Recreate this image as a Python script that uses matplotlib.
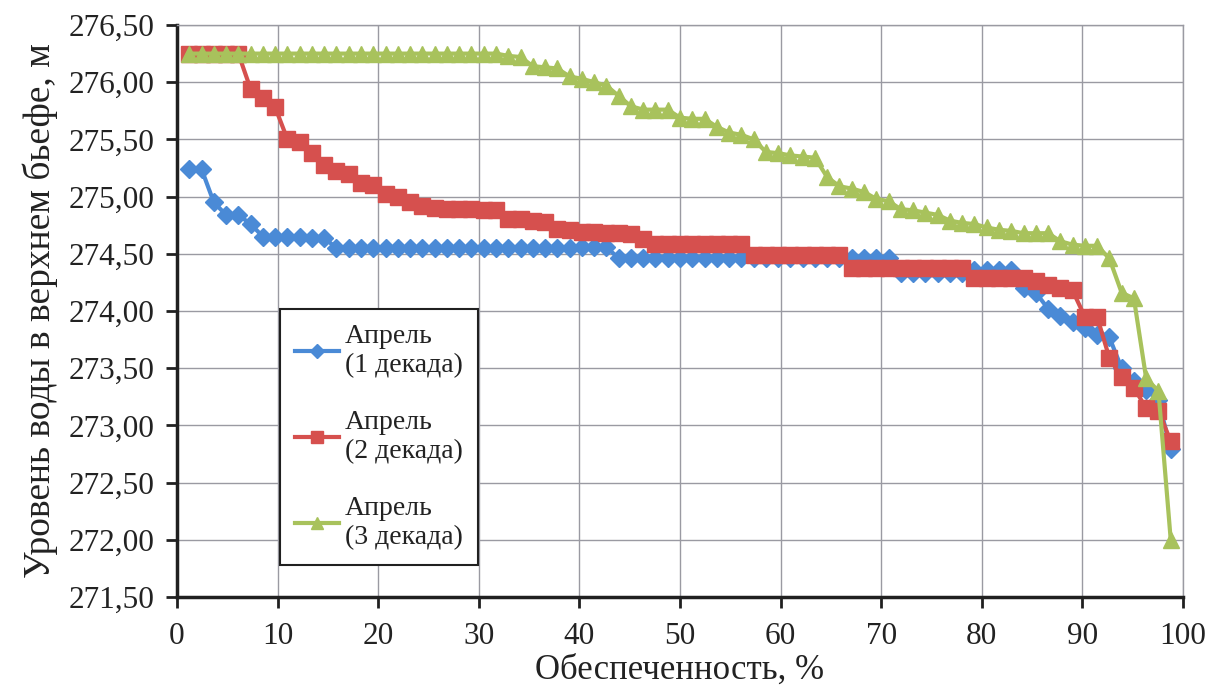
import numpy as np
import matplotlib
matplotlib.use('Agg')
import matplotlib.pyplot as plt
from matplotlib.ticker import FuncFormatter, MultipleLocator

plt.rcParams['font.family'] = ['Liberation Serif', 'DejaVu Serif']

# обеспеченность, %
obesp = [1.22, 2.44, 3.66, 4.88, 6.10, 7.32, 8.54, 9.76, 10.98, 12.20,
         13.41, 14.63, 15.85, 17.07, 18.29, 19.51, 20.73, 21.95, 23.17, 24.39,
         25.61, 26.83, 28.05, 29.27, 30.49, 31.71, 32.93, 34.15, 35.37, 36.59,
         37.80, 39.02, 40.24, 41.46, 42.68, 43.90, 45.12, 46.34, 47.56, 48.78,
         50.00, 51.22, 52.44, 53.66, 54.88, 56.10, 57.32, 58.54, 59.76, 60.98,
         62.20, 63.41, 64.63, 65.85, 67.07, 68.29, 69.51, 70.73, 71.95, 73.17,
         74.39, 75.61, 76.83, 78.05, 79.27, 80.49, 81.71, 82.93, 84.15, 85.37,
         86.59, 87.80, 89.02, 90.24, 91.46, 92.68, 93.90, 95.12, 96.34, 97.56,
         98.78]

# Апрель (1 декада)
dek1 = [275.24, 275.24, 274.95, 274.84, 274.84, 274.76, 274.65, 274.65, 274.65, 274.65,
        274.64, 274.64, 274.55, 274.55, 274.55, 274.55, 274.55, 274.55, 274.55, 274.55,
        274.55, 274.55, 274.55, 274.55, 274.55, 274.55, 274.55, 274.55, 274.55, 274.55,
        274.55, 274.55, 274.56, 274.56, 274.56, 274.46, 274.46, 274.46, 274.46, 274.46,
        274.46, 274.46, 274.46, 274.46, 274.46, 274.46, 274.46, 274.46, 274.46, 274.46,
        274.46, 274.46, 274.46, 274.46, 274.46, 274.46, 274.46, 274.46, 274.33, 274.33,
        274.33, 274.33, 274.33, 274.33, 274.36, 274.36, 274.36, 274.36, 274.20, 274.16,
        274.02, 273.96, 273.90, 273.85, 273.79, 273.77, 273.50, 273.39, 273.31, 273.22,
        272.79]

# Апрель (2 декада)
dek2 = [276.25, 276.25, 276.25, 276.25, 276.25, 275.94, 275.86, 275.78, 275.50, 275.48,
        275.38, 275.28, 275.22, 275.20, 275.12, 275.10, 275.02, 275.00, 274.95, 274.92,
        274.90, 274.89, 274.89, 274.89, 274.88, 274.88, 274.80, 274.80, 274.79, 274.78,
        274.72, 274.71, 274.69, 274.69, 274.68, 274.68, 274.67, 274.63, 274.59, 274.59,
        274.59, 274.59, 274.59, 274.59, 274.59, 274.59, 274.49, 274.49, 274.49, 274.49,
        274.49, 274.49, 274.49, 274.49, 274.38, 274.38, 274.38, 274.38, 274.38, 274.38,
        274.38, 274.38, 274.38, 274.38, 274.29, 274.29, 274.29, 274.29, 274.29, 274.26,
        274.23, 274.20, 274.18, 273.95, 273.95, 273.59, 273.42, 273.33, 273.15, 273.13,
        272.86]

# Апрель (3 декада)
dek3 = [276.25, 276.25, 276.25, 276.25, 276.25, 276.25, 276.25, 276.25, 276.25, 276.25,
        276.25, 276.25, 276.25, 276.25, 276.25, 276.25, 276.25, 276.25, 276.25, 276.25,
        276.25, 276.25, 276.25, 276.25, 276.25, 276.25, 276.23, 276.22, 276.14, 276.13,
        276.12, 276.05, 276.03, 276.00, 275.97, 275.88, 275.79, 275.76, 275.76, 275.76,
        275.69, 275.68, 275.68, 275.61, 275.56, 275.54, 275.50, 275.39, 275.38, 275.36,
        275.35, 275.34, 275.17, 275.09, 275.07, 275.04, 274.98, 274.96, 274.89, 274.88,
        274.86, 274.84, 274.79, 274.77, 274.76, 274.73, 274.71, 274.70, 274.68, 274.68,
        274.68, 274.61, 274.58, 274.57, 274.57, 274.46, 274.16, 274.11, 273.41, 273.30,
        272.00]

labels = ['Апрель\n(1 декада)', 'Апрель\n(2 декада)', 'Апрель\n(3 декада)']

fig = plt.figure(figsize=(12.09, 6.92), dpi=100)
ax = fig.add_axes([177/1209, 1 - 597/692, (1183 - 177)/1209, (597 - 25)/692])

ax.plot(obesp, dek1, color='#4A8AD6', lw=3, marker='D', ms=9.5, mec='#4A8AD6', label=labels[0], zorder=3)
ax.plot(obesp, dek2, color='#D6504E', lw=3, marker='s', ms=11.5, mec='#D6504E', label=labels[1], zorder=3)
ax.plot(obesp, dek3, color='#A8C25C', lw=3, marker='^', ms=11.5, mec='#A8C25C', label=labels[2], zorder=3)

ax.set_xlim(0, 100)
ax.set_ylim(271.5, 276.5)
ax.xaxis.set_major_locator(MultipleLocator(10))
ax.yaxis.set_major_locator(MultipleLocator(0.5))
ax.yaxis.set_major_formatter(FuncFormatter(lambda v, p: f'{v:.2f}'.replace('.', ',')))

ax.grid(True, color='#9a9aa2', lw=1.0)
ax.set_axisbelow(True)
for s in ['top', 'right']:
    ax.spines[s].set_color('#9a9aa2')
    ax.spines[s].set_linewidth(1.0)
for s in ['left', 'bottom']:
    ax.spines[s].set_color('#202020')
    ax.spines[s].set_linewidth(2.5)

ax.tick_params(axis='both', direction='out', length=8, width=2, color='#202020',
               labelsize=22.5, labelcolor='#222222')
ax.tick_params(axis='x', pad=10)
ax.tick_params(axis='y', pad=8)

ax.set_xlabel('Обеспеченность, %', fontsize=25, color='#222222', labelpad=2)
ax.set_ylabel('Уровень воды в верхнем бьефе, м', fontsize=27, color='#222222', labelpad=8)

# легенда в рамке слева внизу
leg = ax.legend(loc='lower left', bbox_to_anchor=(0.102, 0.056), fontsize=20,
                frameon=True, fancybox=False, edgecolor='#202020', framealpha=1,
                borderaxespad=0, handlelength=1.6, labelspacing=1.15, borderpad=0.55,
                handletextpad=0.2, markerscale=0.8)
leg.get_frame().set_linewidth(1.5)
for t in leg.get_texts():
    t.set_color('#222222')

fig.savefig('out.png', dpi=100)
